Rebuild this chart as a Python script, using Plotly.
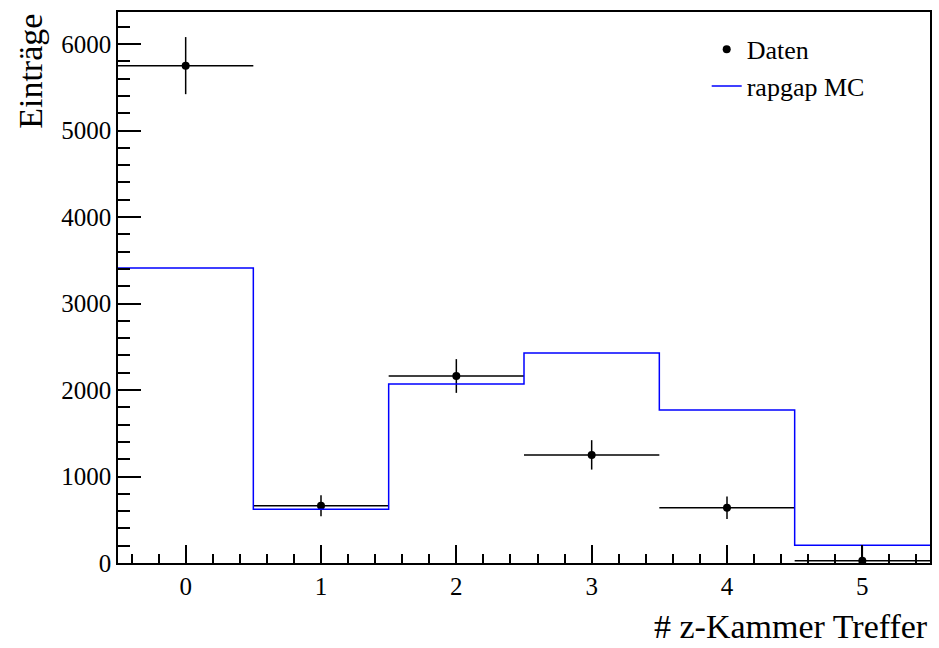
import plotly.graph_objects as go

# Data
bins = [0, 1, 2, 3, 4, 5]
data_vals = [5750, 662, 2162, 1250, 640, 25]
data_err = [330, 122, 195, 170, 130, 180]
bin_halfwidth = [0.5, 0.5, 0.5, 0.5, 0.5, 0.5]
mc_vals = [3410, 620, 2070, 2428, 1769, 205]

edges = [b - 0.5 for b in bins] + [bins[-1] + 0.5]
mc_step = mc_vals + [mc_vals[-1]]

FONT = "Liberation Serif"

fig = go.Figure()
fig.add_trace(go.Scatter(
    x=bins, y=data_vals, mode="markers", name="Daten",
    marker=dict(color="black", size=8),
    error_x=dict(type="data", array=bin_halfwidth, width=0, thickness=1.5, color="black"),
    error_y=dict(type="data", array=data_err, width=0, thickness=1.5, color="black"),
))
fig.add_trace(go.Scatter(
    x=edges, y=mc_step, mode="lines", name="rapgap MC",
    line=dict(color="blue", width=1.5, shape="hv"),
))

fig.update_layout(
    width=939, height=648,
    margin=dict(l=118, r=7, t=12, b=85),
    paper_bgcolor="white", plot_bgcolor="white",
    font=dict(family=FONT, size=25, color="black"),
    showlegend=True,
    legend=dict(x=0.725, y=0.975, xanchor="left", yanchor="top",
                bgcolor="rgba(0,0,0,0)", font=dict(size=26, family=FONT),
                tracegroupgap=0),
    xaxis=dict(range=[-0.5, 5.5], showgrid=False, zeroline=False,
               showline=True, linecolor="black", linewidth=1.5, mirror=True,
               ticks="inside", ticklen=18, tickwidth=1.5, tickcolor="black",
               dtick=1, tick0=0,
               minor=dict(ticks="inside", ticklen=9, dtick=0.2, tick0=0,
                          tickcolor="black", tickwidth=1.5, showgrid=False),
               tickfont=dict(size=25, family=FONT)),
    yaxis=dict(range=[0, 6370], showgrid=False, zeroline=False,
               showline=True, linecolor="black", linewidth=1.5, mirror=True,
               ticks="inside", ticklen=23, tickwidth=1.5, tickcolor="black",
               dtick=1000, tick0=0,
               minor=dict(ticks="inside", ticklen=12, dtick=200, tick0=0,
                          tickcolor="black", tickwidth=1.5, showgrid=False),
               tickfont=dict(size=25, family=FONT)),
    annotations=[
        dict(text="# z-Kammer Treffer", xref="paper", yref="paper",
             x=1.0, y=-0.152, xanchor="right", yanchor="bottom",
             showarrow=False, font=dict(size=34, family=FONT)),
        dict(text="Einträge", xref="paper", yref="paper",
             x=-0.108, y=1.0, xanchor="center", yanchor="top", textangle=-90,
             showarrow=False, font=dict(size=34, family=FONT)),
    ],
)

fig.write_html("out.html")
